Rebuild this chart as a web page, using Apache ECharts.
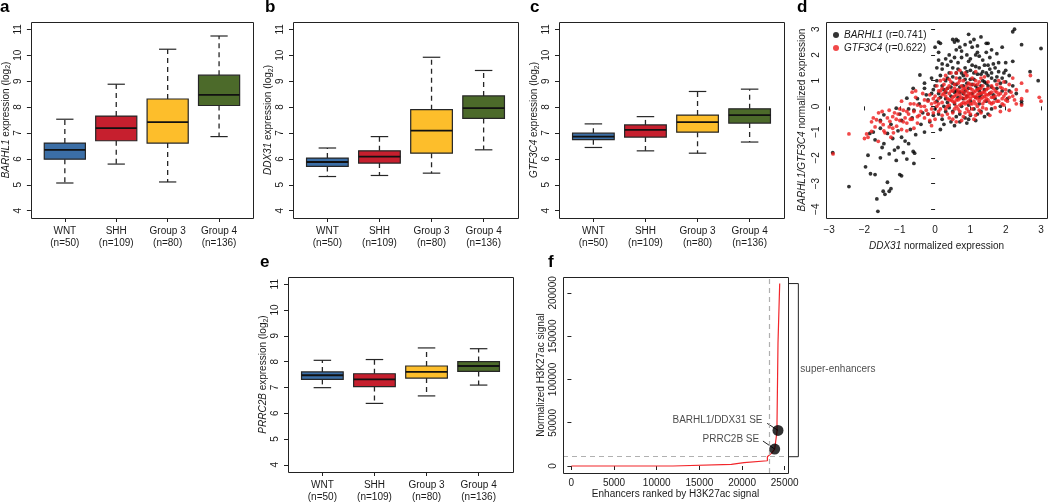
<!DOCTYPE html>
<html><head><meta charset="utf-8">
<script src="https://cdn.jsdelivr.net/npm/echarts@6/dist/echarts.min.js"></script>
<style>html,body{margin:0;padding:0;background:#fff}#c{width:1050px;height:503px}</style>
</head><body><div id="c"></div>
<script>
// ---------- data ----------
const categories = ['WNT', 'SHH', 'Group 3', 'Group 4'];
const groupSizes = [50, 109, 80, 136];
const exprTicks = [4, 5, 6, 7, 8, 9, 10, 11];
// [min, Q1, median, Q3, max]
const barhl1Box = [[5.07,5.99,6.35,6.61,7.53],[5.80,6.70,7.19,7.65,8.88],[5.11,6.61,7.42,8.31,10.23],[6.86,8.06,8.47,9.23,10.74]];
const ddx31Box  = [[5.32,5.71,5.88,6.03,6.42],[5.36,5.84,6.09,6.31,6.86],[5.45,6.22,7.09,7.90,9.92],[6.35,7.56,7.96,8.43,9.41]];
const gtf3c4Box = [[6.44,6.74,6.86,6.99,7.35],[6.31,6.84,7.12,7.31,7.63],[6.22,7.03,7.42,7.69,8.60],[6.65,7.38,7.69,7.93,8.69]];
const prrc2bBox = [[6.99,7.31,7.47,7.60,8.05],[6.38,7.03,7.31,7.53,8.08],[6.67,7.36,7.60,7.83,8.53],[7.09,7.62,7.83,8.00,8.50]];

const scatterTicksX = [-3, -2, -1, 0, 1, 2, 3];
const scatterTicksY = [-4, -3, -2, -1, 0, 1, 2, 3];
const barhl1R = '0.741';
const gtf3c4R = '0.622';
// DDX31 (x) vs BARHL1 (y)
const barhl1Points = [
[-2.9,-1.8],[-2.44,-3.12],[-1.97,-2.35],[-1.9,-1.9],[-1.83,-2.62],[-1.7,-2.65],[-1.65,-3.6],[-1.62,-4.08],[-1.47,-3.3],[-1.42,-3.42],
[-1.3,-3.3],[-1.25,-3.2],[-1.35,-2.95],[-1.0,-2.65],[-0.95,-2.7],[-0.6,-2.22],[-0.62,-1.75],[-0.58,-1.82],[-0.75,-1.45],[-1.05,-1.6],
[-1.15,-1.7],[-1.3,-1.85],[-1.55,-2.0],[-1.45,-1.45],[-1.2,-1.25],[-0.95,-1.2],[-0.85,-1.35],[-0.55,-1.1],[-0.7,-0.9],[-1.05,-0.95],
[-1.35,-1.05],[-1.7,-1.3],[-1.75,-1.0],[-1.85,-1.05],[-1.55,-0.85],[-1.25,-0.7],[-0.95,-0.55],[-0.65,-0.45],[-0.4,-0.7],[-0.3,-1.0],
[-0.15,-0.6],[-1.45,-0.33],[-1.1,-0.07],[-0.8,0.32],[-0.62,0.7],[-0.43,1.22],[-0.3,0.9],[-0.5,0.3],[-0.2,0.25],[-0.35,-0.25],
[-0.6,-0.15],[-0.25,0.45],[-1.55,-0.55],[-1.5,-1.6],[-0.9,-1.8],[-0.8,-2.05],[-1.1,-2.1],
[0.0,2.3],[0.1,2.5],[0.15,2.45],[0.1,2.1],[0.1,1.8],[0.2,1.45],[0.15,1.2],[0.05,1.0],[0.0,0.8],[0.1,0.5],
[0.05,0.2],[0.0,-0.1],[0.1,-0.3],[0.2,-0.5],[0.15,-0.9],[0.3,-0.2],[0.3,0.3],[0.35,0.7],[0.3,1.0],[0.4,1.3],
[0.35,1.6],[0.4,2.0],[0.5,2.6],[0.55,2.5],[0.6,2.6],[0.65,2.55],[0.6,2.2],[0.7,2.3],[0.75,2.15],[0.55,1.9],
[0.65,1.7],[0.5,1.5],[0.6,1.3],[0.7,1.1],[0.5,0.9],[0.6,0.6],[0.45,0.4],[0.55,0.1],[0.5,-0.2],[0.6,-0.4],
[0.45,-0.6],[0.7,-0.3],[0.75,0.0],[0.8,0.3],[0.85,0.6],[0.9,0.9],[0.8,1.2],[0.85,1.5],[0.95,1.75],[0.9,2.0],
[0.95,2.8],[1.0,2.5],[1.1,2.6],[1.05,2.3],[1.15,2.0],[1.05,1.6],[1.1,1.3],[1.0,1.05],[1.15,0.8],[1.05,0.5],
[1.0,0.2],[1.1,-0.1],[1.0,-0.35],[0.95,-0.5],[1.2,-0.3],[1.25,0.1],[1.3,0.45],[1.2,0.7],[1.35,1.0],[1.3,1.25],
[1.25,1.5],[1.35,1.8],[1.2,2.1],[1.3,2.7],[1.45,2.45],[1.5,2.45],[1.45,2.1],[1.55,1.9],[1.5,1.6],[1.45,1.3],
[1.6,1.1],[1.5,0.8],[1.55,0.5],[1.45,0.2],[1.6,-0.1],[1.4,-0.4],[1.7,0.3],[1.75,0.7],[1.7,1.0],[1.8,1.35],
[1.65,1.65],[1.8,1.7],[1.9,2.3],[2.0,1.7],[1.95,1.3],[2.0,0.95],[1.9,0.6],[2.05,0.3],[1.85,0.0],[2.2,1.75],
[2.1,1.2],[2.2,0.8],[2.25,3.0],[2.2,2.9],[2.45,2.4],[2.69,1.35],[2.92,1.0],[3.0,2.25],[2.45,0.1],[2.45,0.2],
[2.3,0.5],[0.25,0.0],[0.35,0.15],[0.4,-0.05],[0.65,0.35],[0.7,0.55],[0.8,0.8],[0.9,0.4],[0.95,0.05],[1.15,0.35],
[1.25,0.6],[1.4,0.65],[1.4,0.95],[1.6,0.75],[0.3,0.55],[0.2,0.8],[-0.1,0.5],[-0.1,1.1],[-0.05,-0.35],[0.7,-0.6],
[0.85,-0.45],[1.3,-0.2],
[0.15,0.35],[0.25,0.65],[0.35,1.1],[0.45,0.75],[0.5,1.15],[0.55,0.55],[0.6,0.85],[0.65,1.45],[0.7,0.75],[0.75,1.3],
[0.8,0.5],[0.85,1.05],[0.9,1.35],[0.95,0.7],[1.0,1.4],[1.05,0.85],[1.1,1.05],[1.15,1.55],[1.2,1.25],[1.25,0.35],
[1.3,0.8],[1.35,1.35],[1.4,1.6],[1.45,0.9],[1.5,1.2],[1.55,1.45],[1.6,1.3],[1.65,0.45],[1.7,1.5],[1.75,1.15],
[1.85,0.9],[1.9,1.1],[2.0,1.4],[2.1,0.6],[0.2,1.65],[0.3,1.85],[0.45,1.75],[0.75,1.9],[1.0,1.85],[1.25,1.95],
[1.6,2.2],[1.75,2.05],[0.85,2.4],[1.2,2.35],[0.05,1.5],[-0.05,0.65],[0.25,-0.7],[0.55,-0.75],[0.9,-0.65],[1.15,-0.55],
[1.5,-0.3],[-0.2,-0.3],[-0.45,0.1],[-0.75,-0.1],[-1.0,-0.3],[-0.3,0.7]
];
// DDX31 (x) vs GTF3C4 (y)
const gtf3c4Points = [
[-2.89,-1.85],[-2.44,-1.07],[-1.94,-1.07],[-1.9,-1.2],[-1.8,-0.97],[-1.61,-1.36],[-1.66,-0.52],[-1.7,-0.8],[-1.55,-0.6],[-1.47,-0.71],
[-1.42,-1.03],[-1.35,-0.45],[-1.28,-0.58],[-1.2,-0.85],[-1.18,-1.03],[-1.09,-0.77],[-1.05,-0.3],[-1.0,-0.55],[-0.95,-0.9],[-0.9,-0.15],
[-0.85,-0.45],[-0.8,-0.65],[-0.75,-0.3],[-0.7,0.1],[-0.65,-0.5],[-0.6,-0.2],[-0.55,0.35],[-0.5,-0.65],[-0.45,-0.35],[-0.4,0.0],
[-0.35,0.5],[-0.3,-0.45],[-0.25,-0.15],[-0.2,0.2],[-0.15,-0.55],[-0.1,0.1],[-0.05,-0.25],[-1.5,-0.2],[-1.75,-0.45],[-1.3,-0.15],
[-1.15,-0.25],[-0.95,0.2],[-0.65,0.55],[-0.5,0.05],[-2.0,-1.25],[-1.8,-0.6],[-1.45,-0.95],[-1.6,-0.25],[-1.25,-1.2],[-0.8,-0.95],
[-0.6,-0.85],[-0.55,0.6],[-0.3,0.25],[-0.15,0.45],[-0.1,-0.75],
[0.0,0.4],[0.05,0.0],[0.0,-0.5],[0.05,0.8],[0.1,0.3],[0.1,-0.2],[0.15,0.6],[0.15,1.0],[0.2,-0.35],[0.2,0.15],
[0.25,0.5],[0.25,0.85],[0.3,-0.1],[0.3,1.2],[0.35,0.3],[0.35,0.7],[0.4,-0.45],[0.4,0.05],[0.4,0.5],[0.45,0.95],
[0.45,1.3],[0.5,0.2],[0.5,0.6],[0.5,-0.25],[0.55,0.4],[0.55,0.85],[0.6,1.1],[0.6,0.0],[0.6,-0.6],[0.65,0.25],
[0.65,0.65],[0.7,0.45],[0.7,1.4],[0.7,-0.2],[0.75,0.8],[0.75,0.1],[0.8,0.55],[0.8,1.0],[0.8,-0.4],[0.85,0.3],
[0.85,0.7],[0.9,0.15],[0.9,1.2],[0.9,-0.1],[0.95,0.5],[0.95,0.9],[1.0,0.3],[1.0,0.7],[1.0,-0.3],[1.05,1.1],
[1.05,0.1],[1.1,0.55],[1.1,0.85],[1.1,-0.5],[1.15,0.35],[1.15,1.35],[1.2,0.0],[1.2,0.65],[1.25,0.2],[1.25,0.95],
[1.3,0.5],[1.3,-0.25],[1.35,0.8],[1.35,0.1],[1.4,0.4],[1.4,1.15],[1.45,-0.1],[1.45,0.65],[1.5,0.25],[1.5,0.95],
[1.55,0.5],[1.55,-0.35],[1.6,0.1],[1.6,0.8],[1.65,0.35],[1.7,0.6],[1.7,-0.05],[1.75,0.2],[1.8,0.45],[1.8,1.0],
[1.85,-0.2],[1.9,0.3],[1.9,0.7],[1.95,0.05],[2.0,0.5],[2.05,0.2],[2.1,0.85],[2.1,-0.15],[2.2,1.1],[2.2,0.4],
[2.3,0.1],[2.45,0.3],[2.45,0.05],[2.7,1.2],[2.95,0.35],[3.0,0.2],[2.6,0.6],
[0.3,0.6],[0.5,0.35],[0.6,0.45],[0.7,0.3],[0.75,0.6],[0.85,0.45],[0.9,0.35],[0.95,0.2],[1.0,0.5],[1.05,0.4],
[1.1,0.2],[1.15,0.6],[1.2,0.45],[1.25,0.7],[1.3,0.3],[1.35,0.55],[1.4,0.2],[1.45,0.45],[0.55,0.7],[0.65,0.9],
[0.8,0.15],[0.9,0.6],[1.0,0.85],[1.2,0.85],[0.2,0.45],[0.35,0.0],[0.45,0.25],[0.65,-0.1],[0.95,-0.2],[1.35,-0.05],
[1.6,0.55],[1.75,0.85],[0.4,0.8],[0.1,0.6],[-0.05,0.3],[0.25,1.05],[0.6,1.3],[0.85,1.3],[1.3,1.1],[1.5,0.7],
[1.65,0.15],[1.85,0.5],[2.0,0.25],[2.3,0.65],[2.45,0.9],[0.75,-0.55],[0.5,-0.5],[1.15,-0.35],[1.95,0.95],[0.15,-0.1],
[0.3,0.4],[0.4,0.25],[0.45,0.6],[0.55,0.15],[0.6,0.25],[0.65,0.55],[0.7,0.05],[0.75,0.35],[0.8,0.7],[0.85,0.1],
[0.9,0.8],[0.95,0.4],[1.0,0.1],[1.05,0.65],[1.1,0.4],[1.15,0.1],[1.2,0.3],[1.25,0.5],[1.3,0.7],[1.35,0.35],
[1.4,0.55],[1.45,0.3],[1.5,0.45],[1.55,0.15],[1.6,0.35],[1.65,0.7],[1.7,0.4],[1.75,0.55],[1.8,0.2],[1.85,0.75],
[1.9,0.1],[1.95,0.4],[2.0,0.65],[2.1,0.35],[2.15,0.55],[2.25,0.25],[0.2,0.7],[0.1,0.1],[0.0,0.15],[-0.1,-0.1],
[-0.2,-0.3],[-0.3,0.0],[-0.4,-0.2],[-0.5,-0.4],[-0.6,0.1],[-0.7,-0.5],[-0.8,-0.2],[-0.9,-0.6],[-1.0,-0.1],[-1.1,-0.5],
[-1.2,-0.4],[-1.3,-0.8],[0.35,-0.3],[0.55,-0.1],[0.85,-0.25],[1.25,-0.15],[1.05,-0.1],[0.4,1.05],[0.7,1.0],[1.15,1.0]
];

// panel f: enhancers ranked by H3K27ac signal
const enhancerRank   = [0, 11900, 11900, 18750, 18750, 20230, 20230, 22970, 22970, 23440, 23828, 24098, 24098, 24215, 24215, 24414, 24414];
const enhancerSignal = [0, 0, 1960, 1960, 3800, 3800, 6100, 6100, 10700, 14600, 19600, 40000, 49300, 49300, 142300, 142300, 210800];
const rankTicks = [0, 5000, 10000, 15000, 20000, 25000];
const signalTicks = [0, 50000, 100000, 150000, 200000];
const cutoffRank = 23240;
const cutoffSignal = 10750;
const seNames = ['BARHL1/DDX31 SE', 'PRRC2B SE'];
const seRank = [24215, 23828];
const seSignal = [41150, 19600];
const bracketRank = [25500, 26600, 26600, 25500];
const bracketSignal = [210800, 210800, 10750, 10750];
const leaderStartRank = [22950, 22450];
const leaderStartSignal = [49270, 28850];

// ---------- styles ----------
const FONT = '"Liberation Sans", Arial, Helvetica, sans-serif';
const INK = '#1a1a1a';
const boxColors = ['#3B6EA6', '#C61F2E', '#FDBE2B', '#4C6A2A'];

const chart = echarts.init(document.getElementById('c'), null, {renderer: 'canvas'});

function boxRender(params, api) {
  const i = api.value(0);
  const pLo = api.coord([i, api.value(1)]);
  const pQ1 = api.coord([i, api.value(2)]);
  const pMd = api.coord([i, api.value(3)]);
  const pQ3 = api.coord([i, api.value(4)]);
  const pHi = api.coord([i, api.value(5)]);
  const w = api.size([0.8, 0])[0];
  const cw = w * 0.42;
  const cx = pMd[0];
  const stroke = '#262626';
  return {type: 'group', children: [
    {type: 'line', shape: {x1: cx, y1: pQ3[1], x2: cx, y2: pHi[1]}, style: {stroke, lineWidth: 1.3, lineDash: [5, 4]}},
    {type: 'line', shape: {x1: cx, y1: pQ1[1], x2: cx, y2: pLo[1]}, style: {stroke, lineWidth: 1.3, lineDash: [5, 4]}},
    {type: 'line', shape: {x1: cx - cw / 2, y1: pHi[1], x2: cx + cw / 2, y2: pHi[1]}, style: {stroke, lineWidth: 1.2}},
    {type: 'line', shape: {x1: cx - cw / 2, y1: pLo[1], x2: cx + cw / 2, y2: pLo[1]}, style: {stroke, lineWidth: 1.2}},
    {type: 'rect', shape: {x: cx - w / 2, y: pQ3[1], width: w, height: pQ1[1] - pQ3[1]},
      style: {fill: boxColors[i - 1], stroke, lineWidth: 1.2}},
    {type: 'line', shape: {x1: cx - w / 2, y1: pMd[1], x2: cx + w / 2, y2: pMd[1]}, style: {stroke: '#111', lineWidth: 1.8}}
  ]};
}
function frameRender(params) {
  const r = params.coordSys;
  return {type: 'rect', shape: {x: Math.round(r.x) + 0.5, y: Math.round(r.y) + 0.5, width: Math.round(r.width), height: Math.round(r.height)},
    style: {fill: 'none', stroke: '#222', lineWidth: 1}};
}
function bracketRender(params, api) {
  const pts = bracketRank.map((r, k) => api.coord([r, bracketSignal[k]]));
  return {type: 'polyline', shape: {points: pts}, style: {fill: 'none', stroke: '#222', lineWidth: 1}};
}

const grids = [
  {left: 28, top: 22, width: 225, height: 196},
  {left: 293, top: 22, width: 225, height: 196},
  {left: 559, top: 22, width: 225, height: 196},
  {left: 826, top: 22, width: 221, height: 196},
  {left: 288, top: 277, width: 225, height: 196},
  {left: 563, top: 277, width: 225, height: 196}
];

const tickStyle = {show: true, length: 4, lineStyle: {color: '#222', width: 1}};
const labelBase = {color: INK, fontSize: 10, fontFamily: FONT};

function boxX(gi) {
  return {type: 'value', gridIndex: gi, min: 0.34, max: 4.66,
    axisLine: {show: false}, splitLine: {show: false},
    axisTick: Object.assign({customValues: [1, 2, 3, 4]}, tickStyle),
    axisLabel: Object.assign({customValues: [1, 2, 3, 4], margin: 7, lineHeight: 12,
      formatter: v => categories[Math.round(v) - 1] + '\n(n=' + groupSizes[Math.round(v) - 1] + ')'}, labelBase)};
}
function boxY(gi, gene) {
  return {type: 'value', gridIndex: gi, min: 3.72, max: 11.28,
    axisLine: {show: false}, splitLine: {show: false},
    axisTick: Object.assign({customValues: exprTicks}, tickStyle),
    axisLabel: Object.assign({customValues: exprTicks, rotate: 90, margin: 8, formatter: v => String(v)}, labelBase),
    name: '{i|' + gene + '} expression (log{s|2})', nameLocation: 'middle', nameGap: 17,
    nameTextStyle: {color: INK, fontSize: 10, fontFamily: FONT,
      rich: {i: {fontStyle: 'italic', fontSize: 10, fontFamily: FONT, color: INK},
             s: {fontSize: 7, fontFamily: FONT, color: INK, padding: [5, 0, 0, 0]}}}};
}
const minus = v => (v < 0 ? '\u2212' + Math.abs(v) : String(v));

const option = {
  animation: false,
  textStyle: {fontFamily: FONT},
  grid: grids,
  legend: {
    data: ['BARHL1', 'GTF3C4'], left: 828, top: 25, orient: 'vertical',
    icon: 'circle', itemWidth: 6, itemHeight: 6, itemGap: 3,
    formatter: n => '{i|' + n + '} (r=' + (n === 'BARHL1' ? barhl1R : gtf3c4R) + ')',
    textStyle: {fontSize: 10, color: INK, fontFamily: FONT,
      rich: {i: {fontStyle: 'italic', fontSize: 10, color: INK, fontFamily: FONT}}},
    selectedMode: false
  },
  xAxis: [
    boxX(0), boxX(1), boxX(2),
    {type: 'value', gridIndex: 3, min: -3.09, max: 3.17, axisLine: {show: false}, splitLine: {show: false},
      axisTick: Object.assign({customValues: scatterTicksX}, tickStyle),
      axisLabel: Object.assign({customValues: scatterTicksX, margin: 7, formatter: minus}, labelBase),
      name: '{i|DDX31} normalized expression', nameLocation: 'middle', nameGap: 23,
      nameTextStyle: {color: INK, fontSize: 10, fontFamily: FONT, rich: {i: {fontStyle: 'italic', fontSize: 10, color: INK, fontFamily: FONT}}}},
    boxX(4),
    {type: 'value', gridIndex: 5, min: -985, max: 25387, axisLine: {show: false}, splitLine: {show: false},
      axisTick: Object.assign({customValues: rankTicks}, tickStyle),
      axisLabel: Object.assign({customValues: rankTicks, margin: 5, formatter: v => String(v)}, labelBase),
      name: 'Enhancers ranked by H3K27ac signal', nameLocation: 'middle', nameGap: 15,
      nameTextStyle: {color: INK, fontSize: 10, fontFamily: FONT}}
  ],
  yAxis: [
    boxY(0, 'BARHL1'), boxY(1, 'DDX31'), boxY(2, 'GTF3C4'),
    {type: 'value', gridIndex: 3, min: -4.34, max: 3.28, axisLine: {show: false}, splitLine: {show: false},
      axisTick: Object.assign({customValues: scatterTicksY}, tickStyle),
      axisLabel: Object.assign({customValues: scatterTicksY, rotate: 90, margin: 5, formatter: minus}, labelBase),
      name: '{i|BARHL1/GTF3C4} normalized expression', nameLocation: 'middle', nameGap: 19,
      nameTextStyle: {color: INK, fontSize: 10, fontFamily: FONT, rich: {i: {fontStyle: 'italic', fontSize: 10, color: INK, fontFamily: FONT}}}},
    boxY(4, 'PRRC2B'),
    {type: 'value', gridIndex: 5, min: -8080, max: 218400, axisLine: {show: false}, splitLine: {show: false},
      axisTick: Object.assign({customValues: signalTicks}, tickStyle),
      axisLabel: Object.assign({customValues: signalTicks, rotate: 90, margin: 5, formatter: v => String(v)}, labelBase),
      name: 'Normalized H3K27ac signal', nameLocation: 'middle', nameGap: 17,
      nameTextStyle: {color: INK, fontSize: 10, fontFamily: FONT}}
  ],
  series: [
    ...grids.map((g, gi) => ({type: 'custom', xAxisIndex: gi, yAxisIndex: gi, silent: true, z: 20,
      renderItem: frameRender, data: [[0, 0]]})),
    {type: 'custom', xAxisIndex: 0, yAxisIndex: 0, renderItem: boxRender, encode: {x: 0, y: [1, 2, 3, 4, 5]},
      data: barhl1Box.map((b, k) => [k + 1].concat(b))},
    {type: 'custom', xAxisIndex: 1, yAxisIndex: 1, renderItem: boxRender, encode: {x: 0, y: [1, 2, 3, 4, 5]},
      data: ddx31Box.map((b, k) => [k + 1].concat(b))},
    {type: 'custom', xAxisIndex: 2, yAxisIndex: 2, renderItem: boxRender, encode: {x: 0, y: [1, 2, 3, 4, 5]},
      data: gtf3c4Box.map((b, k) => [k + 1].concat(b))},
    {type: 'custom', xAxisIndex: 4, yAxisIndex: 4, renderItem: boxRender, encode: {x: 0, y: [1, 2, 3, 4, 5]},
      data: prrc2bBox.map((b, k) => [k + 1].concat(b))},
    {name: 'BARHL1', type: 'scatter', xAxisIndex: 3, yAxisIndex: 3, symbolSize: 3.8,
      itemStyle: {color: '#000'}, data: barhl1Points},
    {name: 'GTF3C4', type: 'scatter', xAxisIndex: 3, yAxisIndex: 3, symbolSize: 3.8,
      itemStyle: {color: '#EE1C1C'}, data: gtf3c4Points},
    {type: 'line', xAxisIndex: 5, yAxisIndex: 5, showSymbol: false, symbol: 'none',
      lineStyle: {color: '#F2262B', width: 1.2}, data: enhancerRank.map((r, k) => [r, enhancerSignal[k]]),
      markLine: {silent: true, symbol: 'none', label: {show: false},
        lineStyle: {type: [5, 4], color: '#B0B0B0', width: 1.2},
        data: [{xAxis: cutoffRank}, {yAxis: cutoffSignal}]}},
    {type: 'custom', xAxisIndex: 5, yAxisIndex: 5, clip: false, silent: true, renderItem: bracketRender, data: [[0, 0]]},
    {type: 'scatter', xAxisIndex: 5, yAxisIndex: 5, clip: false, symbolSize: 0,
      label: {show: true, position: 'right', distance: 2, formatter: 'super-enhancers', color: INK, fontSize: 10, fontFamily: FONT},
      data: [[bracketRank[1], (bracketSignal[1] + bracketSignal[2]) / 2 + 1500]]},
    ...seNames.map((n, k) => ({type: 'line', xAxisIndex: 5, yAxisIndex: 5, clip: false, symbol: 'none',
      lineStyle: {color: '#222', width: 1}, data: [[leaderStartRank[k], leaderStartSignal[k]], [seRank[k], seSignal[k]]]})),
    {type: 'scatter', xAxisIndex: 5, yAxisIndex: 5, symbolSize: 11, z: 5,
      itemStyle: {color: '#000'},
      label: {show: true, position: 'left', distance: 10, offset: [0, -10], formatter: p => p.name,
        color: INK, fontSize: 10, fontFamily: FONT},
      data: seNames.map((n, k) => ({name: n, value: [seRank[k], seSignal[k]]}))}
  ],
  graphic: [
    ['a', 0, -1], ['b', 265, -1], ['c', 530, -1], ['d', 797, -1], ['e', 260, 254], ['f', 548, 254]
  ].map(([t, x, y]) => ({type: 'text', left: x, top: y,
    style: {text: t, font: 'bold 17px ' + FONT, fill: '#000'}}))
};
chart.setOption(option);
</script></body></html>
